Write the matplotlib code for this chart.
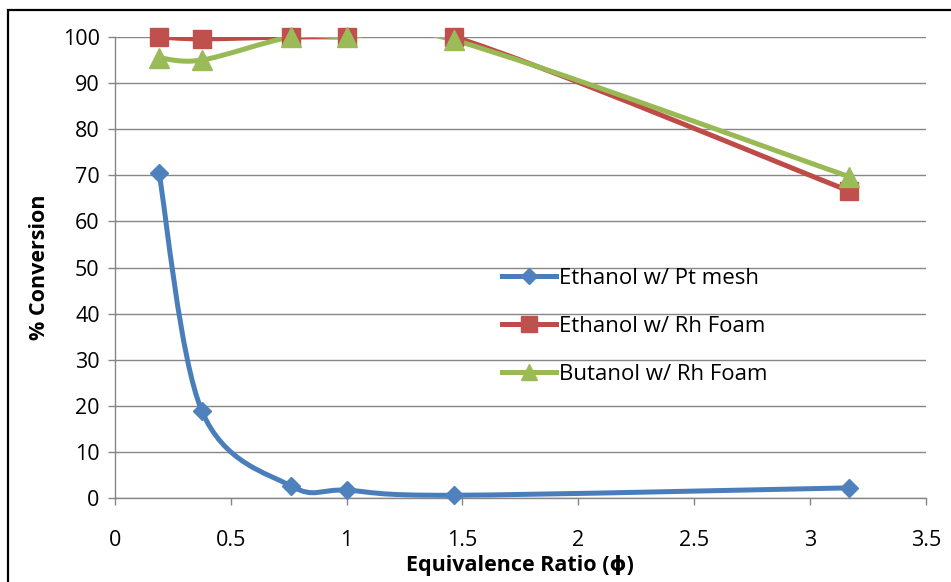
import matplotlib
matplotlib.use("Agg")
import matplotlib.pyplot as plt
from matplotlib.lines import Line2D
from matplotlib.patches import PathPatch, Rectangle
from matplotlib.path import Path
import numpy as np

plt.rcParams["font.family"] = ["Open Sans", "DejaVu Sans"]

# equivalence ratio for each run
phi_pt = [0.19, 0.375, 0.76, 1.0, 1.465, 3.17]
phi_rh = [0.19, 0.375, 0.76, 1.0, 1.465, 3.17]

conv_ethanol_pt = [70.6, 18.9, 2.6, 1.7, 0.6, 2.2]
conv_ethanol_rh = [100.0, 99.6, 100.0, 100.0, 100.0, 66.6]
conv_butanol_rh = [95.5, 95.0, 100.0, 100.0, 99.3, 69.7]

series_labels = ["Ethanol w/ Pt mesh", "Ethanol w/ Rh Foam", "Butanol w/ Rh Foam"]

x_ticks = [0, 0.5, 1, 1.5, 2, 2.5, 3, 3.5]
y_ticks = list(range(0, 101, 10))

GRID = "#868686"
FS = 15.5


def smooth_path(xs, ys):
    """Excel-style smoothed line: Catmull-Rom segments written as cubic Beziers."""
    pts = np.column_stack([xs, ys]).astype(float)
    n = len(pts)
    verts = [pts[0]]
    codes = [Path.MOVETO]
    for i in range(n - 1):
        p0 = pts[max(i - 1, 0)]
        p1 = pts[i]
        p2 = pts[i + 1]
        p3 = pts[min(i + 2, n - 1)]
        verts += [p1 + (p2 - p0) / 6, p2 - (p3 - p1) / 6, p2]
        codes += [Path.CURVE4] * 3
    return Path(verts, codes)


fig = plt.figure(figsize=(9.51, 5.82), dpi=100)
ax = fig.add_axes([0.1209, 0.1443, 0.8525, 0.7921])

series = [
    (phi_pt, conv_ethanol_pt, "#4a7ebb", "#4f81bd", "D", 9.0),
    (phi_rh, conv_ethanol_rh, "#be4b48", "#c0504d", "s", 13.5),
    (phi_rh, conv_butanol_rh, "#98b954", "#9bbb59", "^", 14.0),
]

handles = []
for (xs, ys, lc, mc, mk, ms), label in zip(series, series_labels):
    ax.add_patch(PathPatch(smooth_path(xs, ys), fill=False, edgecolor=lc, lw=3.6,
                           capstyle="round", joinstyle="round", zorder=3))
    ax.plot(xs, ys, ls="none", marker=mk, ms=ms, color=mc, mec=mc, clip_on=False, zorder=4)
    handles.append(Line2D([], [], color=lc, lw=3.6, marker=mk, ms=ms * 0.85, mfc=mc, mec=mc))

ax.set_xlim(0, 3.5)
ax.set_ylim(0, 100)
ax.set_xticks(x_ticks)
ax.set_xticklabels([f"{t:g}" for t in x_ticks])
ax.set_yticks(y_ticks)

ax.grid(axis="y", color=GRID, lw=1.0)
ax.set_axisbelow(True)
for side in ("top", "right"):
    ax.spines[side].set_visible(False)
for side in ("left", "bottom"):
    ax.spines[side].set_color(GRID)
    ax.spines[side].set_linewidth(1.0)

ax.tick_params(axis="both", colors=GRID, labelcolor="black", labelsize=FS, length=5, width=1.0)
ax.tick_params(axis="x", pad=18)
ax.tick_params(axis="y", pad=6)

ax.set_xlabel("Equivalence Ratio (ϕ)", fontsize=FS, fontweight="bold")
ax.xaxis.set_label_coords(0.5, -0.124)
ax.set_ylabel("% Conversion", fontsize=FS, fontweight="bold")
ax.yaxis.set_label_coords(-0.08, 0.5)

ax.legend(handles, series_labels, loc="upper left", bbox_to_anchor=(0.477, 0.499),
          frameon=False, fontsize=16, handlelength=2.45, handletextpad=0.15,
          labelspacing=1.22, borderpad=0, borderaxespad=0)

# chart frame
fig.add_artist(Rectangle((8 / 951, -0.1), 1.2, 1.1 - 10 / 582, transform=fig.transFigure,
                         fill=False, edgecolor="black", lw=1.6))

fig.savefig("out.png", dpi=100)
